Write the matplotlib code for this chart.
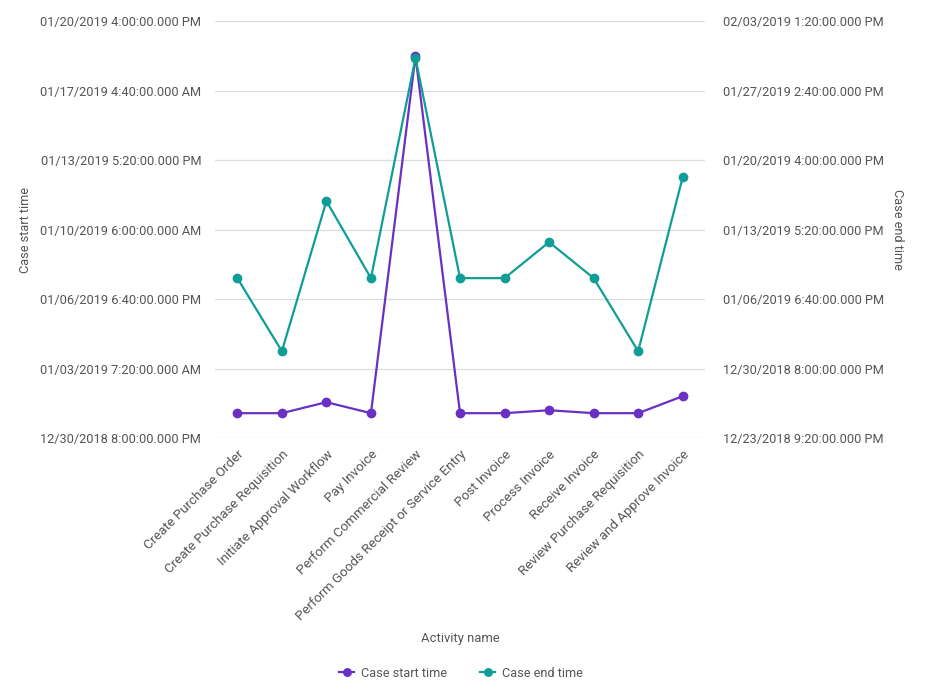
import numpy as np
import pandas as pd
import matplotlib
matplotlib.use("Agg")
import matplotlib.pyplot as plt
import matplotlib.dates as mdates
from matplotlib.ticker import FuncFormatter, FixedLocator

plt.rcParams['font.family'] = ['Roboto', 'DejaVu Sans']

activities = ["Create Purchase Order", "Create Purchase Requisition", "Initiate Approval Workflow",
              "Pay Invoice", "Perform Commercial Review", "Perform Goods Receipt or Service Entry",
              "Post Invoice", "Process Invoice", "Receive Invoice", "Review Purchase Requisition",
              "Review and Approve Invoice"]

case_start = pd.to_datetime([
    "2019-01-01 02:00", "2019-01-01 02:00", "2019-01-01 15:10", "2019-01-01 02:00",
    "2019-01-18 21:50", "2019-01-01 02:00", "2019-01-01 02:00", "2019-01-01 05:30",
    "2019-01-01 02:00", "2019-01-01 02:00", "2019-01-01 22:20"])

case_end = pd.to_datetime([
    "2019-01-08 21:00", "2019-01-01 13:50", "2019-01-16 13:40", "2019-01-08 21:00",
    "2019-01-30 20:40", "2019-01-08 21:00", "2019-01-08 21:00", "2019-01-12 11:20",
    "2019-01-08 21:00", "2019-01-01 13:50", "2019-01-18 23:20"])

left_ticks = pd.date_range("2018-12-30 20:00", periods=7, freq="300000s")
right_ticks = pd.date_range("2018-12-23 21:20", periods=7, freq="600000s")

purple = "#6930c3"
teal = "#0f9e96"


def fmt_dt(v, pos=None):
    d = mdates.num2date(v)
    h = d.hour % 12
    if h == 0:
        h = 12
    ampm = "AM" if d.hour < 12 else "PM"
    return f"{d:%m/%d/%Y} {h}:{d:%M:%S}.000 {ampm}"


fig = plt.figure(figsize=(9.27, 7), dpi=100)
ax = fig.add_axes([0.232, 0.374, 0.5285, 0.596])
ax2 = ax.twinx()

x = np.arange(len(activities))
l2, = ax2.plot(x, mdates.date2num(case_end), '-o', color=teal, lw=1.6, ms=6, label="Case end time", zorder=3)
l1, = ax.plot(x, mdates.date2num(case_start), '-o', color=purple, lw=1.6, ms=6, label="Case start time", zorder=3)

lt = mdates.date2num(left_ticks)
rt = mdates.date2num(right_ticks)
ax.set_ylim(lt[0], lt[-1])
ax2.set_ylim(rt[0], rt[-1])
ax.yaxis.set_major_locator(FixedLocator(lt))
ax2.yaxis.set_major_locator(FixedLocator(rt))
ax.yaxis.set_major_formatter(FuncFormatter(fmt_dt))
ax2.yaxis.set_major_formatter(FuncFormatter(fmt_dt))

ax.set_xlim(-0.5, len(activities) - 0.5)
ax.set_xticks(x)
ax.set_xticklabels(activities, rotation=45, ha='right', rotation_mode='anchor', fontsize=9.6)

ax.grid(axis='y', color='#dcdcdc', lw=0.9)
ax.set_axisbelow(True)
for a in (ax, ax2):
    for s in a.spines.values():
        s.set_visible(False)
    a.tick_params(axis='y', length=0, colors='#555555', labelsize=9.2)
ax.tick_params(axis='x', length=0, colors='#555555', pad=7)
ax.tick_params(axis='y', pad=10)
ax2.tick_params(axis='y', pad=13)

fig.text(0.027, 0.672, "Case start time", rotation=90, ha='center', va='center', fontsize=9.2, color='#555555')
fig.text(0.968, 0.672, "Case end time", rotation=-90, ha='center', va='center', fontsize=9.2, color='#555555')
fig.text(0.497, 0.088, "Activity name", ha='center', va='center', fontsize=9.4, color='#555555')

fig.legend(handles=[l1, l2], loc='center', bbox_to_anchor=(0.497, 0.038), ncol=2, frameon=False,
           fontsize=9.2, labelcolor='#555555', handlelength=1.2, handletextpad=0.5, columnspacing=2.6,
           markerscale=0.9)

fig.savefig("out.png", dpi=100)
